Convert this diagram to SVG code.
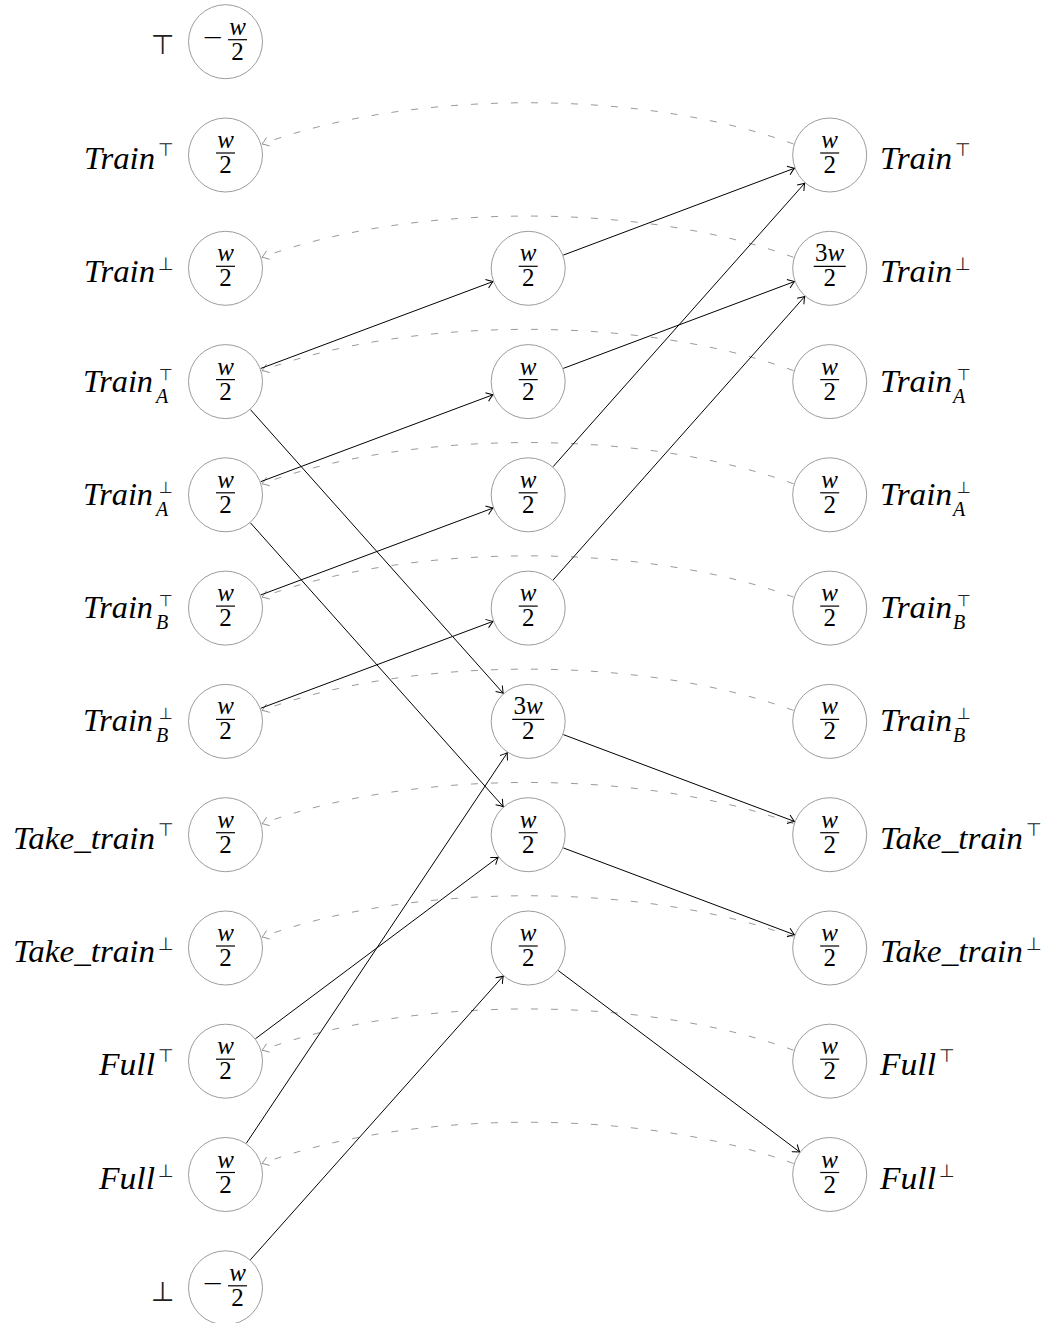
<svg xmlns="http://www.w3.org/2000/svg" width="1047" height="1323" viewBox="0 0 1047 1323">
  <style>
    .node circle { fill: #ffffff; stroke: #9c9c9c; stroke-width: 1; }
    .fi { font-family: "Liberation Serif", serif; font-style: italic; font-size: 25px; text-anchor: middle; fill: #000; }
    .fn { font-family: "Liberation Serif", serif; font-size: 25px; text-anchor: middle; fill: #000; }
    .bar { stroke: #000; stroke-width: 1.2; }
    .lbl { font-family: "Liberation Serif", serif; font-style: italic; font-size: 32px; fill: #000; }
    .lbl.l { text-anchor: end; }
    .sub { font-family: "Liberation Serif", serif; font-style: italic; font-size: 20px; fill: #000; }
    .sym { font-family: "DejaVu Sans", sans-serif; font-size: 18px; fill: #222; }
    .ss { font-family: "DejaVu Sans", sans-serif; font-size: 16px; fill: #222; }
    .bsym { font-family: "DejaVu Sans", sans-serif; font-size: 27px; fill: #222; }
    .edge { fill: none; stroke: #000; stroke-width: 1; }
    .back { fill: none; stroke: #8f8f8f; stroke-width: 0.9; stroke-dasharray: 7 13; }
  </style>
  <defs>
    <marker id="tip" markerUnits="userSpaceOnUse" markerWidth="12" markerHeight="12" refX="0" refY="0" orient="auto" overflow="visible">
      <path d="M-6.5,-4.5 Q-2,-1 0,0 Q-2,1 -6.5,4.5" fill="none" stroke="#000" stroke-width="1" stroke-dasharray="none"/>
    </marker>
    <marker id="tipg" markerUnits="userSpaceOnUse" markerWidth="12" markerHeight="12" refX="0" refY="0" orient="auto" overflow="visible">
      <path d="M-6.5,-4.5 Q-2,-1 0,0 Q-2,1 -6.5,4.5" fill="none" stroke="#8f8f8f" stroke-width="0.9" stroke-dasharray="none"/>
    </marker>
  </defs>

  <!-- dashed return arcs, right column back to left column -->
  <g id="back-arcs">
    <path class="back" marker-end="url(#tipg)" d="M793.5 144 C643 89 412 89 262 144"/>
    <path class="back" marker-end="url(#tipg)" d="M793.5 257.3 C643 202.3 412 202.3 262 257.3"/>
    <path class="back" marker-end="url(#tipg)" d="M793.5 370.6 C643 315.6 412 315.6 262 370.6"/>
    <path class="back" marker-end="url(#tipg)" d="M793.5 483.8 C643 428.8 412 428.8 262 483.8"/>
    <path class="back" marker-end="url(#tipg)" d="M793.5 597.1 C643 542.1 412 542.1 262 597.1"/>
    <path class="back" marker-end="url(#tipg)" d="M793.5 710.4 C643 655.4 412 655.4 262 710.4"/>
    <path class="back" marker-end="url(#tipg)" d="M793.5 823.7 C643 768.7 412 768.7 262 823.7"/>
    <path class="back" marker-end="url(#tipg)" d="M793.5 937 C643 882 412 882 262 937"/>
    <path class="back" marker-end="url(#tipg)" d="M793.5 1050.2 C643 995.2 412 995.2 262 1050.2"/>
    <path class="back" marker-end="url(#tipg)" d="M793.5 1163.5 C643 1108.5 412 1108.5 262 1163.5"/>
  </g>

  <!-- solid connectors -->
  <g id="edges">
    <line class="edge" marker-end="url(#tip)" x1="260.6" y1="368.5" x2="493.1" y2="281.5"/>
    <line class="edge" marker-end="url(#tip)" x1="260.6" y1="481.7" x2="493.1" y2="394.7"/>
    <line class="edge" marker-end="url(#tip)" x1="260.6" y1="595.0" x2="493.1" y2="508.0"/>
    <line class="edge" marker-end="url(#tip)" x1="260.6" y1="708.3" x2="493.1" y2="621.3"/>
    <line class="edge" marker-end="url(#tip)" x1="250.4" y1="409.6" x2="503.3" y2="693.4"/>
    <line class="edge" marker-end="url(#tip)" x1="250.4" y1="522.8" x2="503.3" y2="806.7"/>
    <line class="edge" marker-end="url(#tip)" x1="255.5" y1="1038.7" x2="498.2" y2="857.2"/>
    <line class="edge" marker-end="url(#tip)" x1="246.3" y1="1143.3" x2="507.4" y2="752.6"/>
    <line class="edge" marker-end="url(#tip)" x1="250.4" y1="1259.8" x2="503.3" y2="976.0"/>
    <line class="edge" marker-end="url(#tip)" x1="563.3" y1="255.1" x2="794.6" y2="168.2"/>
    <line class="edge" marker-end="url(#tip)" x1="563.3" y1="368.4" x2="794.6" y2="281.5"/>
    <line class="edge" marker-end="url(#tip)" x1="553.1" y1="466.7" x2="804.8" y2="183.1"/>
    <line class="edge" marker-end="url(#tip)" x1="553.1" y1="580.0" x2="804.8" y2="296.4"/>
    <line class="edge" marker-end="url(#tip)" x1="563.3" y1="734.6" x2="794.6" y2="821.5"/>
    <line class="edge" marker-end="url(#tip)" x1="563.3" y1="847.9" x2="794.6" y2="934.8"/>
    <line class="edge" marker-end="url(#tip)" x1="558.2" y1="970.5" x2="799.7" y2="1152.0"/>
  </g>

  <!-- left column -->
  <g id="l-top" class="node">
    <text class="bsym" x="151" y="53.7">⊤</text>
    <circle cx="225.5" cy="41.7" r="37"/>
    <text class="fn" transform="translate(212.5 45.7) scale(1.4 1)" x="0" y="0">−</text>
    <text class="fi" x="237.5" y="34.7">w</text>
    <line class="bar" x1="228" y1="39.7" x2="247" y2="39.7"/>
    <text class="fn" x="237.5" y="59.7">2</text>
  </g>
  <g id="l-train-top" class="node">
    <text class="lbl l" x="155" y="169" textLength="71" lengthAdjust="spacingAndGlyphs">Train</text>
    <text class="sym" x="158" y="156">⊤</text>
    <circle cx="225.5" cy="155" r="37"/>
    <text class="fi" x="225.5" y="148">w</text>
    <line class="bar" x1="216" y1="153" x2="235" y2="153"/>
    <text class="fn" x="225.5" y="173">2</text>
  </g>
  <g id="l-train-bot" class="node">
    <text class="lbl l" x="155" y="282.3" textLength="71" lengthAdjust="spacingAndGlyphs">Train</text>
    <text class="sym" x="158" y="270.3">⊥</text>
    <circle cx="225.5" cy="268.3" r="37"/>
    <text class="fi" x="225.5" y="261.3">w</text>
    <line class="bar" x1="216" y1="266.3" x2="235" y2="266.3"/>
    <text class="fn" x="225.5" y="286.3">2</text>
  </g>
  <g id="l-train-a-top" class="node">
    <text class="lbl l" x="153" y="391.6" textLength="70" lengthAdjust="spacingAndGlyphs">Train</text>
    <text class="ss" x="159" y="379.6">⊤</text>
    <text class="sub" x="156" y="402.6">A</text>
    <circle cx="225.5" cy="381.6" r="37"/>
    <text class="fi" x="225.5" y="374.6">w</text>
    <line class="bar" x1="216" y1="379.6" x2="235" y2="379.6"/>
    <text class="fn" x="225.5" y="399.6">2</text>
  </g>
  <g id="l-train-a-bot" class="node">
    <text class="lbl l" x="153" y="504.8" textLength="70" lengthAdjust="spacingAndGlyphs">Train</text>
    <text class="ss" x="159" y="492.8">⊥</text>
    <text class="sub" x="156" y="515.8">A</text>
    <circle cx="225.5" cy="494.8" r="37"/>
    <text class="fi" x="225.5" y="487.8">w</text>
    <line class="bar" x1="216" y1="492.8" x2="235" y2="492.8"/>
    <text class="fn" x="225.5" y="512.8">2</text>
  </g>
  <g id="l-train-b-top" class="node">
    <text class="lbl l" x="153" y="618.1" textLength="70" lengthAdjust="spacingAndGlyphs">Train</text>
    <text class="ss" x="159" y="606.1">⊤</text>
    <text class="sub" x="156" y="629.1">B</text>
    <circle cx="225.5" cy="608.1" r="37"/>
    <text class="fi" x="225.5" y="601.1">w</text>
    <line class="bar" x1="216" y1="606.1" x2="235" y2="606.1"/>
    <text class="fn" x="225.5" y="626.1">2</text>
  </g>
  <g id="l-train-b-bot" class="node">
    <text class="lbl l" x="153" y="731.4" textLength="70" lengthAdjust="spacingAndGlyphs">Train</text>
    <text class="ss" x="159" y="719.4">⊥</text>
    <text class="sub" x="156" y="742.4">B</text>
    <circle cx="225.5" cy="721.4" r="37"/>
    <text class="fi" x="225.5" y="714.4">w</text>
    <line class="bar" x1="216" y1="719.4" x2="235" y2="719.4"/>
    <text class="fn" x="225.5" y="739.4">2</text>
  </g>
  <g id="l-take-top" class="node">
    <text class="lbl l" x="155" y="848.7" textLength="142" lengthAdjust="spacingAndGlyphs">Take_train</text>
    <text class="sym" x="158" y="835.7">⊤</text>
    <circle cx="225.5" cy="834.7" r="37"/>
    <text class="fi" x="225.5" y="827.7">w</text>
    <line class="bar" x1="216" y1="832.7" x2="235" y2="832.7"/>
    <text class="fn" x="225.5" y="852.7">2</text>
  </g>
  <g id="l-take-bot" class="node">
    <text class="lbl l" x="155" y="962" textLength="142" lengthAdjust="spacingAndGlyphs">Take_train</text>
    <text class="sym" x="158" y="950">⊥</text>
    <circle cx="225.5" cy="948" r="37"/>
    <text class="fi" x="225.5" y="941">w</text>
    <line class="bar" x1="216" y1="946" x2="235" y2="946"/>
    <text class="fn" x="225.5" y="966">2</text>
  </g>
  <g id="l-full-top" class="node">
    <text class="lbl l" x="155" y="1075.2" textLength="56" lengthAdjust="spacingAndGlyphs">Full</text>
    <text class="sym" x="158" y="1062.2">⊤</text>
    <circle cx="225.5" cy="1061.2" r="37"/>
    <text class="fi" x="225.5" y="1054.2">w</text>
    <line class="bar" x1="216" y1="1059.2" x2="235" y2="1059.2"/>
    <text class="fn" x="225.5" y="1079.2">2</text>
  </g>
  <g id="l-full-bot" class="node">
    <text class="lbl l" x="155" y="1188.5" textLength="56" lengthAdjust="spacingAndGlyphs">Full</text>
    <text class="sym" x="158" y="1176.5">⊥</text>
    <circle cx="225.5" cy="1174.5" r="37"/>
    <text class="fi" x="225.5" y="1167.5">w</text>
    <line class="bar" x1="216" y1="1172.5" x2="235" y2="1172.5"/>
    <text class="fn" x="225.5" y="1192.5">2</text>
  </g>
  <g id="l-bot" class="node">
    <text class="bsym" x="151" y="1300.8">⊥</text>
    <circle cx="225.5" cy="1287.8" r="37"/>
    <text class="fn" transform="translate(212.5 1291.8) scale(1.4 1)" x="0" y="0">−</text>
    <text class="fi" x="237.5" y="1280.8">w</text>
    <line class="bar" x1="228" y1="1285.8" x2="247" y2="1285.8"/>
    <text class="fn" x="237.5" y="1305.8">2</text>
  </g>

  <!-- middle column -->
  <g id="m2" class="node">
    <circle cx="528.2" cy="268.3" r="37"/>
    <text class="fi" x="528.2" y="261.3">w</text>
    <line class="bar" x1="518.7" y1="266.3" x2="537.7" y2="266.3"/>
    <text class="fn" x="528.2" y="286.3">2</text>
  </g>
  <g id="m3" class="node">
    <circle cx="528.2" cy="381.6" r="37"/>
    <text class="fi" x="528.2" y="374.6">w</text>
    <line class="bar" x1="518.7" y1="379.6" x2="537.7" y2="379.6"/>
    <text class="fn" x="528.2" y="399.6">2</text>
  </g>
  <g id="m4" class="node">
    <circle cx="528.2" cy="494.8" r="37"/>
    <text class="fi" x="528.2" y="487.8">w</text>
    <line class="bar" x1="518.7" y1="492.8" x2="537.7" y2="492.8"/>
    <text class="fn" x="528.2" y="512.8">2</text>
  </g>
  <g id="m5" class="node">
    <circle cx="528.2" cy="608.1" r="37"/>
    <text class="fi" x="528.2" y="601.1">w</text>
    <line class="bar" x1="518.7" y1="606.1" x2="537.7" y2="606.1"/>
    <text class="fn" x="528.2" y="626.1">2</text>
  </g>
  <g id="m6" class="node">
    <circle cx="528.2" cy="721.4" r="37"/>
    <text class="fn" x="528.2" y="714.4">3<tspan font-style="italic">w</tspan></text>
    <line class="bar" x1="512.2" y1="719.4" x2="544.2" y2="719.4"/>
    <text class="fn" x="528.2" y="739.4">2</text>
  </g>
  <g id="m7" class="node">
    <circle cx="528.2" cy="834.7" r="37"/>
    <text class="fi" x="528.2" y="827.7">w</text>
    <line class="bar" x1="518.7" y1="832.7" x2="537.7" y2="832.7"/>
    <text class="fn" x="528.2" y="852.7">2</text>
  </g>
  <g id="m8" class="node">
    <circle cx="528.2" cy="948" r="37"/>
    <text class="fi" x="528.2" y="941">w</text>
    <line class="bar" x1="518.7" y1="946" x2="537.7" y2="946"/>
    <text class="fn" x="528.2" y="966">2</text>
  </g>

  <!-- right column -->
  <g id="r-train-top" class="node">
    <circle cx="829.7" cy="155" r="37"/>
    <text class="fi" x="829.7" y="148">w</text>
    <line class="bar" x1="820.2" y1="153" x2="839.2" y2="153"/>
    <text class="fn" x="829.7" y="173">2</text>
    <text class="lbl" x="880" y="169" textLength="72" lengthAdjust="spacingAndGlyphs">Train</text>
    <text class="sym" x="955" y="156">⊤</text>
  </g>
  <g id="r-train-bot" class="node">
    <circle cx="829.7" cy="268.3" r="37"/>
    <text class="fn" x="829.7" y="261.3">3<tspan font-style="italic">w</tspan></text>
    <line class="bar" x1="813.7" y1="266.3" x2="845.7" y2="266.3"/>
    <text class="fn" x="829.7" y="286.3">2</text>
    <text class="lbl" x="880" y="282.3" textLength="72" lengthAdjust="spacingAndGlyphs">Train</text>
    <text class="sym" x="955" y="270.3">⊥</text>
  </g>
  <g id="r-train-a-top" class="node">
    <circle cx="829.7" cy="381.6" r="37"/>
    <text class="fi" x="829.7" y="374.6">w</text>
    <line class="bar" x1="820.2" y1="379.6" x2="839.2" y2="379.6"/>
    <text class="fn" x="829.7" y="399.6">2</text>
    <text class="lbl" x="880" y="391.6" textLength="72" lengthAdjust="spacingAndGlyphs">Train</text>
    <text class="ss" x="957" y="379.6">⊤</text>
    <text class="sub" x="953" y="402.6">A</text>
  </g>
  <g id="r-train-a-bot" class="node">
    <circle cx="829.7" cy="494.8" r="37"/>
    <text class="fi" x="829.7" y="487.8">w</text>
    <line class="bar" x1="820.2" y1="492.8" x2="839.2" y2="492.8"/>
    <text class="fn" x="829.7" y="512.8">2</text>
    <text class="lbl" x="880" y="504.8" textLength="72" lengthAdjust="spacingAndGlyphs">Train</text>
    <text class="ss" x="957" y="492.8">⊥</text>
    <text class="sub" x="953" y="515.8">A</text>
  </g>
  <g id="r-train-b-top" class="node">
    <circle cx="829.7" cy="608.1" r="37"/>
    <text class="fi" x="829.7" y="601.1">w</text>
    <line class="bar" x1="820.2" y1="606.1" x2="839.2" y2="606.1"/>
    <text class="fn" x="829.7" y="626.1">2</text>
    <text class="lbl" x="880" y="618.1" textLength="72" lengthAdjust="spacingAndGlyphs">Train</text>
    <text class="ss" x="957" y="606.1">⊤</text>
    <text class="sub" x="953" y="629.1">B</text>
  </g>
  <g id="r-train-b-bot" class="node">
    <circle cx="829.7" cy="721.4" r="37"/>
    <text class="fi" x="829.7" y="714.4">w</text>
    <line class="bar" x1="820.2" y1="719.4" x2="839.2" y2="719.4"/>
    <text class="fn" x="829.7" y="739.4">2</text>
    <text class="lbl" x="880" y="731.4" textLength="72" lengthAdjust="spacingAndGlyphs">Train</text>
    <text class="ss" x="957" y="719.4">⊥</text>
    <text class="sub" x="953" y="742.4">B</text>
  </g>
  <g id="r-take-top" class="node">
    <circle cx="829.7" cy="834.7" r="37"/>
    <text class="fi" x="829.7" y="827.7">w</text>
    <line class="bar" x1="820.2" y1="832.7" x2="839.2" y2="832.7"/>
    <text class="fn" x="829.7" y="852.7">2</text>
    <text class="lbl" x="880" y="848.7" textLength="143" lengthAdjust="spacingAndGlyphs">Take_train</text>
    <text class="sym" x="1026" y="835.7">⊤</text>
  </g>
  <g id="r-take-bot" class="node">
    <circle cx="829.7" cy="948" r="37"/>
    <text class="fi" x="829.7" y="941">w</text>
    <line class="bar" x1="820.2" y1="946" x2="839.2" y2="946"/>
    <text class="fn" x="829.7" y="966">2</text>
    <text class="lbl" x="880" y="962" textLength="143" lengthAdjust="spacingAndGlyphs">Take_train</text>
    <text class="sym" x="1026" y="950">⊥</text>
  </g>
  <g id="r-full-top" class="node">
    <circle cx="829.7" cy="1061.2" r="37"/>
    <text class="fi" x="829.7" y="1054.2">w</text>
    <line class="bar" x1="820.2" y1="1059.2" x2="839.2" y2="1059.2"/>
    <text class="fn" x="829.7" y="1079.2">2</text>
    <text class="lbl" x="880" y="1075.2" textLength="56" lengthAdjust="spacingAndGlyphs">Full</text>
    <text class="sym" x="939" y="1062.2">⊤</text>
  </g>
  <g id="r-full-bot" class="node">
    <circle cx="829.7" cy="1174.5" r="37"/>
    <text class="fi" x="829.7" y="1167.5">w</text>
    <line class="bar" x1="820.2" y1="1172.5" x2="839.2" y2="1172.5"/>
    <text class="fn" x="829.7" y="1192.5">2</text>
    <text class="lbl" x="880" y="1188.5" textLength="56" lengthAdjust="spacingAndGlyphs">Full</text>
    <text class="sym" x="939" y="1176.5">⊥</text>
  </g>
</svg>
